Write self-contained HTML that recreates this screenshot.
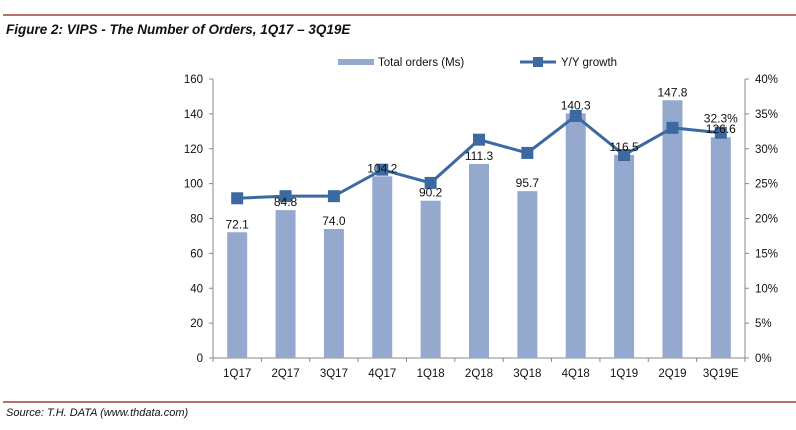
<!DOCTYPE html>
<html><head><meta charset="utf-8"><style>
body{margin:0;background:#fff;width:796px;height:430px;overflow:hidden;font-family:"Liberation Sans",Arial,sans-serif}
svg{display:block}
</style></head><body>
<svg width="796" height="430">
<line x1="3" y1="15" x2="796" y2="15" stroke="#8b1a1a" stroke-width="1.2"/>
<text x="6" y="34" font-size="13.5" font-weight="bold" font-style="italic" fill="#111">Figure 2: VIPS - The Number of Orders, 1Q17 – 3Q19E</text>
<line x1="3" y1="402" x2="796" y2="402" stroke="#8b1a1a" stroke-width="1.2"/>
<text x="6" y="416" font-size="11" font-style="italic" fill="#111">Source: T.H. DATA (www.thdata.com)</text>
<g>
<rect x="338" y="59" width="36" height="6" fill="#95a9cf"/>
<text x="378" y="66" font-size="11.5" fill="#111">Total orders  (Ms)</text>
<line x1="520" y1="62" x2="556" y2="62" stroke="#3c6aa0" stroke-width="3"/>
<rect x="533" y="57" width="10" height="10" fill="#3c6aa0"/>
<text x="561" y="66" font-size="11.5" fill="#111">Y/Y growth</text>
</g>
<g id="plot"></g>
</svg>
<script>
const categories=["1Q17","2Q17","3Q17","4Q17","1Q18","2Q18","3Q18","4Q18","1Q19","2Q19","3Q19E"];
const orders=[72.1,84.8,74.0,104.2,90.2,111.3,95.7,140.3,116.5,147.8,126.6];
const growth=[22.9,23.2,23.2,27.0,25.1,31.3,29.4,34.7,29.1,33.0,32.3];
const leftTicks=[0,20,40,60,80,100,120,140,160];
const rightTicks=[0,5,10,15,20,25,30,35,40];
const X0=213,X1=745,Y0=358,Y1=79;
const ns="http://www.w3.org/2000/svg";
const g=document.getElementById('plot');
const step=(X1-X0)/categories.length;
const xc=i=>X0+step*(i+0.5);
const yL=v=>Y0-(v/160)*(Y0-Y1);
const yR=v=>Y0-(v/40)*(Y0-Y1);
function mk(t,a,txt){const e=document.createElementNS(ns,t);for(const k in a)e.setAttribute(k,a[k]);if(txt!=null)e.textContent=txt;g.appendChild(e);return e;}
let e;
e=mk('line',{x1:X0,y1:Y1,x2:X0,y2:Y0,stroke:'#888'});


e=mk('line',{x1:X1,y1:Y1,x2:X1,y2:Y0,stroke:'#888'});


e=mk('line',{x1:X0,y1:Y0,x2:X1,y2:Y0,stroke:'#888'});


leftTicks.forEach(v=>{const y=yL(v);
mk('line',{x1:X0-4,y1:y,x2:X0,y2:y,stroke:'#888'});
e=mk('text',{x:X0-10,y:y+4,'font-size':11.5,'text-anchor':'end',fill:'#111'},v);

});
rightTicks.forEach(v=>{const y=yR(v);
mk('line',{x1:X1,y1:y,x2:X1+4,y2:y,stroke:'#888'});
e=mk('text',{x:X1+10,y:y+4,'font-size':11.5,fill:'#111'},v+'%');

});
for(let i=0;i<=categories.length;i++){mk('line',{x1:X0+step*i,y1:Y0,x2:X0+step*i,y2:Y0+4,stroke:'#888'});}
categories.forEach((c,i)=>{
e=mk('rect',{x:xc(i)-10,y:yL(orders[i]),width:20,height:Y0-yL(orders[i]),fill:'#95a9cf'});


e=mk('text',{x:xc(i),y:Y0+19,'font-size':11.5,'text-anchor':'middle',fill:'#111'},c);


});
e=mk('polyline',{points:growth.map((v,i)=>xc(i)+','+yR(v)).join(' '),fill:'none',stroke:'#3c6aa0','stroke-width':3});


growth.forEach((v,i)=>{
e=mk('rect',{x:xc(i)-6,y:yR(v)-6,width:12,height:12,fill:'#3c6aa0'});

});
categories.forEach((c,i)=>{
e=mk('text',{x:xc(i),y:yL(orders[i])-4,'font-size':12,'text-anchor':'middle',fill:'#111'},orders[i].toFixed(1));

});
const li=growth.length-1;
e=mk('text',{x:xc(li),y:yR(growth[li])-10,'font-size':12,'text-anchor':'middle',fill:'#111'},growth[li].toFixed(1)+'%');


</script>
</body></html>
